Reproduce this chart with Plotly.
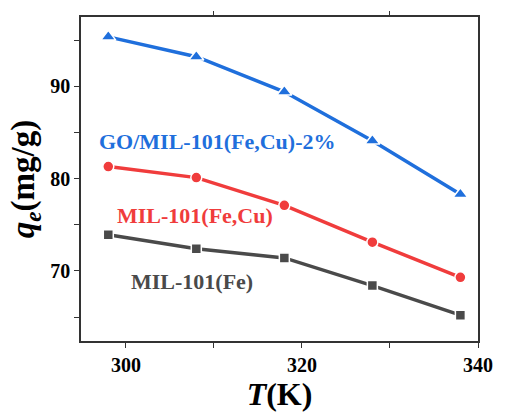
import plotly.graph_objects as go

T = [298, 308, 318, 328, 338]
go_mil = [95.35, 93.2, 89.4, 84.1, 78.3]
mil_fecu = [81.3, 80.1, 77.1, 73.1, 69.3]
mil_fe = [73.9, 72.4, 71.4, 68.4, 65.2]

names = ["GO/MIL-101(Fe,Cu)-2%", "MIL-101(Fe,Cu)", "MIL-101(Fe)"]
colors = ["#1f6fdc", "#f03c3c", "#4a4a4a"]
symbols = ["triangle-up", "circle", "square"]
sizes = [13, 11, 10]
label_x = [310.4, 307.8, 307.5]
label_y = [84.0, 76.0, 68.8]

FONT = "Liberation Serif"
fig = go.Figure()
for ys, c, s, sz in zip([go_mil, mil_fecu, mil_fe], colors, symbols, sizes):
    fig.add_trace(go.Scatter(
        x=T, y=ys, mode="lines+markers",
        line=dict(color=c, width=3.5),
        marker=dict(symbol=s, size=sz, color=c, line=dict(color="white", width=1.5)),
        showlegend=False))

fig.add_trace(go.Scatter(x=[310], y=[80], xaxis="x2", mode="markers",
                         marker=dict(opacity=0), showlegend=False, hoverinfo="skip"))

for n, c, lx, ly in zip(names, colors, label_x, label_y):
    fig.add_annotation(x=lx, y=ly, text="<b>" + n + "</b>", showarrow=False,
                       font=dict(family=FONT, size=22, color=c))

axis_common = dict(showline=True, linecolor="#333", linewidth=1.5, showgrid=False,
                   zeroline=False, ticks="outside", ticklen=5, tickwidth=1.2, tickcolor="#333")

fig.update_layout(
    width=505, height=412,
    margin=dict(l=81, r=20, t=15, b=69),
    plot_bgcolor="white", paper_bgcolor="white",
    xaxis=dict(range=[294.9, 340], tick0=300, dtick=20, mirror=True,
               minor=dict(ticks="outside", ticklen=5, dtick=10, tick0=300, tickcolor="#333"),
               tickfont=dict(family=FONT, size=20, color="black"),
               tickprefix="<b>", ticksuffix="</b>",
               title=dict(text="<b><i>T</i>(K)</b>", font=dict(family=FONT, size=32, color="black"), standoff=2),
               **axis_common),
    xaxis2=dict(range=[294.9, 340], overlaying="x", side="top", anchor="y",
                tickvals=[310, 330], showticklabels=False, ticks="outside", ticklen=5,
                tickwidth=1.2, tickcolor="#333", showgrid=False, zeroline=False, showline=False),
    yaxis=dict(range=[62.4, 97.5], tick0=0, dtick=10, mirror=True,
               minor=dict(ticks="outside", ticklen=5, dtick=5, tick0=0, tickcolor="#333"),
               tickfont=dict(family=FONT, size=20, color="black"),
               tickprefix="<b>", ticksuffix="</b>",
               title=dict(text="<b><i>q<sub>e</sub></i>(mg/g)</b>", font=dict(family=FONT, size=33, color="black"), standoff=6),
               **axis_common),
)

fig.write_html("out.html")
